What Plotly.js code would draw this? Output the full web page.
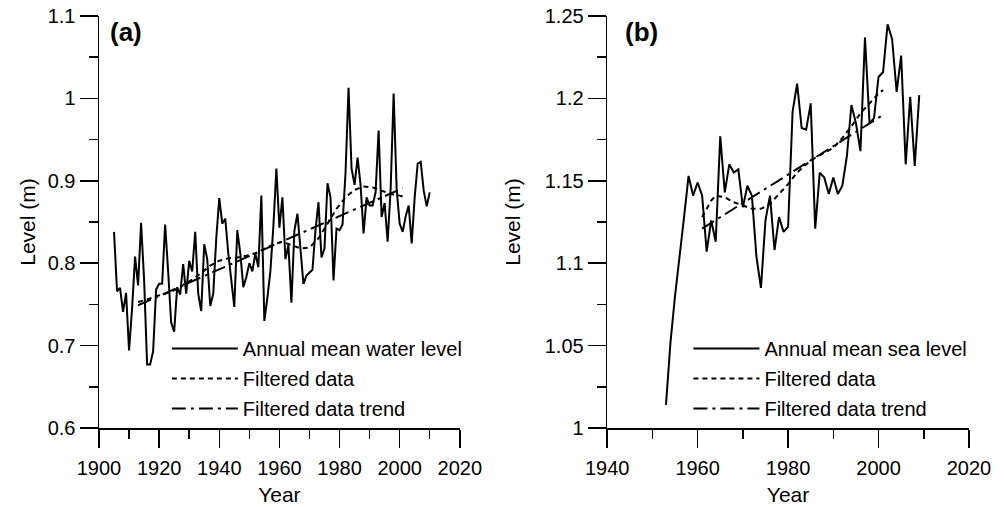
<!DOCTYPE html>
<html>
<head>
<meta charset="utf-8">
<script src="https://cdn.plot.ly/plotly-3.0.1.min.js"></script>
<style>html,body{margin:0;padding:0;background:#fff;}#chart{width:1005px;height:507px;}</style>
</head>
<body>
<div id="chart"></div>
<script>
// ---------- Panel (a): annual mean water level ----------
const startYearA = 1905;
const levelA = [
  0.838, 0.766, 0.770, 0.741, 0.764, 0.694, 0.745, 0.808, 0.773, 0.849,
  0.780, 0.677, 0.677, 0.693, 0.768, 0.775, 0.775, 0.847, 0.790, 0.728,
  0.717, 0.771, 0.762, 0.799, 0.763, 0.803, 0.790, 0.838, 0.763, 0.742,
  0.823, 0.805, 0.748, 0.763, 0.830, 0.879, 0.848, 0.854, 0.812, 0.780,
  0.747, 0.840, 0.812, 0.771, 0.783, 0.800, 0.790, 0.812, 0.795, 0.882,
  0.730, 0.758, 0.790, 0.845, 0.915, 0.843, 0.880, 0.805, 0.822, 0.752,
  0.840, 0.860, 0.812, 0.775, 0.785, 0.788, 0.792, 0.840, 0.874, 0.807,
  0.818, 0.897, 0.880, 0.779, 0.842, 0.840, 0.847, 0.910, 1.013, 0.915,
  0.895, 0.928, 0.895, 0.836, 0.880, 0.870, 0.870, 0.886, 0.961, 0.856,
  0.873, 0.826, 0.890, 1.006, 0.890, 0.848, 0.838, 0.857, 0.870, 0.824,
  0.880, 0.921, 0.923, 0.888, 0.869, 0.886
];
const filtYearsA = [1913, 1916, 1919, 1922, 1925, 1928, 1931, 1934, 1937, 1940, 1943, 1946, 1949, 1952, 1955, 1958, 1961, 1964, 1967, 1970, 1973, 1976, 1979, 1982, 1985, 1988, 1991, 1994, 1997, 2000, 2001];
const filtA      = [0.753, 0.756, 0.760, 0.763, 0.767, 0.773, 0.780, 0.788, 0.797, 0.803, 0.806, 0.807, 0.809, 0.812, 0.817, 0.823, 0.826, 0.822, 0.818, 0.819, 0.830, 0.848, 0.866, 0.880, 0.889, 0.893, 0.892, 0.888, 0.884, 0.882, 0.881];
const trendYearsA = [1913, 2001];
const trendA      = [0.749, 0.891];

// ---------- Panel (b): annual mean sea level ----------
const startYearB = 1953;
const levelB = [
  1.014, 1.052, 1.080, 1.106, 1.128, 1.153, 1.141, 1.149, 1.141, 1.107,
  1.126, 1.113, 1.177, 1.143, 1.160, 1.155, 1.157, 1.134, 1.147, 1.141,
  1.104, 1.085, 1.126, 1.141, 1.108, 1.128, 1.119, 1.122, 1.192, 1.209,
  1.182, 1.181, 1.197, 1.121, 1.155, 1.152, 1.142, 1.152, 1.142, 1.147,
  1.165, 1.196, 1.185, 1.168, 1.237, 1.185, 1.188, 1.213, 1.216, 1.245,
  1.236, 1.204, 1.226, 1.160, 1.201, 1.159, 1.202
];
const filtYearsB = [1961, 1962, 1963, 1964, 1966, 1968, 1970, 1972, 1974, 1976, 1978, 1980, 1982, 1984, 1986, 1988, 1990, 1992, 1994, 1996, 1998, 2000, 2001];
const filtB      = [1.128, 1.133, 1.138, 1.141, 1.140, 1.137, 1.135, 1.133, 1.133, 1.136, 1.142, 1.148, 1.155, 1.160, 1.164, 1.167, 1.170, 1.176, 1.183, 1.191, 1.197, 1.203, 1.205];
const trendYearsB = [1961, 2001];
const trendB      = [1.121, 1.190];

const seriesNamesA = ['Annual mean water level', 'Filtered data', 'Filtered data trend'];
const seriesNamesB = ['Annual mean sea level', 'Filtered data', 'Filtered data trend'];
const panelLabels = ['(a)', '(b)'];

function yearsFrom(start, n) { const out = []; for (let i = 0; i < n; i++) out.push(start + i); return out; }

const FONT = 'Liberation Sans, Arial, sans-serif';
const DASH = '5px,4px';
const DASHDOT = '14px,5px,3px,5px';

const traces = [
  {x: yearsFrom(startYearA, levelA.length), y: levelA, name: seriesNamesA[0], type: 'scatter', mode: 'lines',
   line: {color: '#000', width: 2}, xaxis: 'x', yaxis: 'y', legend: 'legend', legendgroup: 'a1'},
  {x: filtYearsA, y: filtA, name: seriesNamesA[1], type: 'scatter', mode: 'lines',
   line: {color: '#000', width: 2, dash: DASH}, xaxis: 'x', yaxis: 'y', legend: 'legend', legendgroup: 'a2'},
  {x: trendYearsA, y: trendA, name: seriesNamesA[2], type: 'scatter', mode: 'lines',
   line: {color: '#000', width: 2, dash: DASHDOT}, xaxis: 'x', yaxis: 'y', legend: 'legend', legendgroup: 'a3'},
  {x: yearsFrom(startYearB, levelB.length), y: levelB, name: seriesNamesB[0], type: 'scatter', mode: 'lines',
   line: {color: '#000', width: 2}, xaxis: 'x2', yaxis: 'y2', legend: 'legend2', legendgroup: 'b1'},
  {x: filtYearsB, y: filtB, name: seriesNamesB[1], type: 'scatter', mode: 'lines',
   line: {color: '#000', width: 2, dash: DASH}, xaxis: 'x2', yaxis: 'y2', legend: 'legend2', legendgroup: 'b2'},
  {x: trendYearsB, y: trendB, name: seriesNamesB[2], type: 'scatter', mode: 'lines',
   line: {color: '#000', width: 2, dash: DASHDOT}, xaxis: 'x2', yaxis: 'y2', legend: 'legend2', legendgroup: 'b3'}
];

function axisBase(extra) {
  return Object.assign({
    showline: true, linecolor: '#000', linewidth: 1.5,
    ticks: 'outside', ticklen: 18, tickwidth: 1.5, tickcolor: '#000',
    showgrid: false, zeroline: false,
    tickfont: {family: FONT, size: 20, color: '#000'}
  }, extra);
}

const legendBase = {
  bgcolor: 'rgba(0,0,0,0)', borderwidth: 0,
  font: {family: FONT, size: 20, color: '#000'},
  itemwidth: 66, traceorder: 'grouped', tracegroupgap: 1,
  xanchor: 'left', yanchor: 'top'
};

const layout = {
  width: 1005, height: 507,
  margin: {l: 99, r: 36, t: 16, b: 79, pad: 0},
  paper_bgcolor: '#fff', plot_bgcolor: '#fff',
  font: {family: FONT, color: '#000'},
  showlegend: true,
  xaxis: axisBase({domain: [0, 0.4147], range: [1900, 2020], tick0: 1900, dtick: 20, anchor: 'y',
    ticklabelstandoff: 3,
    minor: {dtick: 10, ticklen: 9, tickwidth: 1.5, tickcolor: '#000', ticks: 'outside', showgrid: false},
    title: {text: 'Year', font: {family: FONT, size: 21}, standoff: 10}}),
  yaxis: axisBase({domain: [0, 1], range: [0.6, 1.1], tick0: 0.6, dtick: 0.1, anchor: 'x',
    minor: {dtick: 0.05, ticklen: 9, tickwidth: 1.5, tickcolor: '#000', ticks: 'outside', showgrid: false},
    title: {text: 'Level (m)', font: {family: FONT, size: 21}, standoff: 6}}),
  xaxis2: axisBase({domain: [0.5841, 1], range: [1940, 2020], tick0: 1940, dtick: 20, anchor: 'y2',
    ticklabelstandoff: 3,
    minor: {dtick: 10, ticklen: 9, tickwidth: 1.5, tickcolor: '#000', ticks: 'outside', showgrid: false},
    title: {text: 'Year', font: {family: FONT, size: 21}, standoff: 10}}),
  yaxis2: axisBase({domain: [0, 1], range: [1.0, 1.25], tick0: 1.0, dtick: 0.05, anchor: 'x2',
    minor: {dtick: 0.025, ticklen: 9, tickwidth: 1.5, tickcolor: '#000', ticks: 'outside', showgrid: false},
    title: {text: 'Level (m)', font: {family: FONT, size: 21}, standoff: 18}}),
  legend: Object.assign({}, legendBase, {x: 0.078, y: 0.24}),
  legend2: Object.assign({}, legendBase, {x: 0.6775, y: 0.24}),
  annotations: [
    {text: '<b>' + panelLabels[0] + '</b>', xref: 'paper', yref: 'paper', x: 0.0105, y: 0.962,
     xanchor: 'left', yanchor: 'middle', showarrow: false, font: {family: FONT, size: 26, color: '#000'}},
    {text: '<b>' + panelLabels[1] + '</b>', xref: 'paper', yref: 'paper', x: 0.6025, y: 0.962,
     xanchor: 'left', yanchor: 'middle', showarrow: false, font: {family: FONT, size: 26, color: '#000'}}
  ]
};

Plotly.newPlot('chart', traces, layout, {staticPlot: true, displayModeBar: false});
</script>
</body>
</html>
